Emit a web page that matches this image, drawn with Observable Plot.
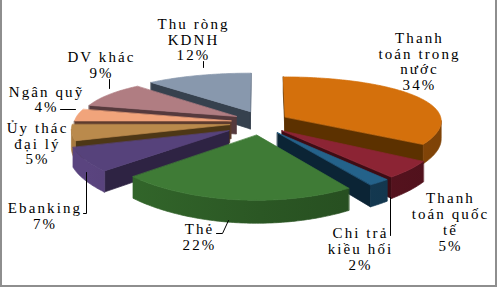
<!DOCTYPE html>
<html>
<head>
<meta charset="utf-8">
<script src="https://cdn.jsdelivr.net/npm/d3@7"></script>
<script src="https://cdn.jsdelivr.net/npm/@observablehq/plot@0.6"></script>
<style>
  html, body { margin: 0; padding: 0; background: #fff; }
  #wrap { position: relative; width: 497px; height: 287px; overflow: hidden; }
  #frame { position: absolute; left: 0; top: -4px; width: 497px; height: 291px; box-sizing: border-box;
           border: 2px solid #8e8e8e; pointer-events: none; }
  svg text { letter-spacing: 2.1px; }
</style>
</head>
<body>
<div id="wrap"><div id="chart"></div><div id="frame"></div></div>
<script>
// ---- data ----
const categories = ["Thanh toán trong nước", "Thanh toán quốc tế", "Chi trả kiều hối", "Thẻ",
  "Ebanking", "Ủy thác đại lý", "Ngân quỹ", "DV khác", "Thu ròng KDNH"];
const shares = [34, 5, 2, 22, 7, 5, 4, 9, 12];
const labelLines = [
  ["Thanh", "toán trong", "nước", "34%"],
  ["Thanh", "toán quốc", "tế", "5%"],
  ["Chi trả", "kiều hối", "2%"],
  ["Thẻ", "22%"],
  ["Ebanking", "7%"],
  ["Ủy thác", "đại lý", "5%"],
  ["Ngân quỹ", "4%"],
  ["DV khác", "9%"],
  ["Thu ròng", "KDNH", "12%"]
];
const topColors  = ["#D4700C", "#8C2434", "#24628A", "#3F7B36", "#56427B", "#BA8A4C", "#F1A47B", "#B07D82", "#8898AD"];
const wallColors = ["#9A5208", "#611522", "#163F5A", "#2B5724", "#4A3868", "#8A6433", "#B87A5A", "#86595E", "#5E6B7B"];
const cutColors  = ["#5C3100", "#3E0C14", "#0B2435", "#1E3D19", "#2E2343", "#4D3716", "#5E3C2E", "#563A3D", "#36414E"];

// ---- layout (not data) ----
const view = {cx: 260, cy: 122, R: 157, tilt: 0.31, kx: 0.08, ky: 0.175, h: 18, ex: 0.18, ez: 0.25};
const explode = [1, 1, 1, 1, 1.28, 1.1, 1.05, 1, 1];
const labelPos = [[419, 61], [450, 221.5], [360, 248.5], [199, 236.5], [44.5, 215.5], [37, 143], [46, 99], [101, 64.5], [193, 39]];
const leaders = [
  [[203, 61], [203, 67]],
  [[109, 79], [109, 88]],
  [[60, 109], [75, 109]],
  [[83, 213], [86, 213], [86, 172]],
  [[216, 233], [222, 233], [228, 220]],
  [[390, 197], [390, 235]]
];

// ---- geometry of a 3D exploded pie ----
function proj(X, Z, d) {
  const sx = 1 / (1 + view.kx * Z), sy = 1 / (1 + view.ky * Z);
  return [view.cx + view.R * X * sx, view.cy - view.R * view.tilt * Z * sy + d * sy];
}
function area(pts) {
  let a = 0;
  for (let i = 0; i < pts.length; i++) {
    const p = pts[i], q = pts[(i + 1) % pts.length];
    a += p[0] * q[1] - q[0] * p[1];
  }
  return a / 2;
}
const total = d3.sum(shares);
let acc = 0;
const slices = shares.map((v, i) => {
  const a = acc / total * 2 * Math.PI; acc += v;
  const b = acc / total * 2 * Math.PI;
  const m = (a + b) / 2;
  return {i, a, b, m, ox: view.ex * explode[i] * Math.sin(m), oz: view.ez * explode[i] * Math.cos(m)};
});
const faces = [];
let fid = 0;
function addFace(pts, fill) {
  const id = fid++;
  pts.forEach(([x, y]) => faces.push({id, x, y, fill}));
}
const order = slices.slice().sort((p, q) => Math.cos(q.m) - Math.cos(p.m));
for (const sl of order) {
  const pt = (th, r, d) => proj(sl.ox + r * Math.sin(th), sl.oz + r * Math.cos(th), d);
  const h = view.h;
  const n = Math.max(2, Math.ceil((sl.b - sl.a) / 0.015));
  const ths = d3.range(n + 1).map(j => sl.a + (sl.b - sl.a) * j / n);
  const tipT = pt(0, 0, 0), tipB = pt(0, 0, h);
  const AT = pt(sl.a, 1, 0), AB = pt(sl.a, 1, h), BT = pt(sl.b, 1, 0), BB = pt(sl.b, 1, h);
  // cut faces
  const fa = [AT, tipT, tipB, AB];
  if (area(fa) > 0) addFace(fa, cutColors[sl.i]);
  const fb = [tipT, BT, BB, tipB];
  if (area(fb) > 0) addFace(fb, cutColors[sl.i]);
  // outer wall (visible runs), filled with a left-lit gradient
  let run = null;
  const flush = () => {
    if (run && run.length > 1) {
      const top = run.map(t => pt(t, 1, 0));
      const bot = run.slice().reverse().map(t => pt(t, 1, h));
      addFace(top.concat(bot), `url(#wall${sl.i})`);
    }
    run = null;
  };
  for (let j = 0; j < n; j++) {
    const q = [pt(ths[j + 1], 1, 0), pt(ths[j], 1, 0), pt(ths[j], 1, h), pt(ths[j + 1], 1, h)];
    if (area(q) > 0) {
      if (!run) run = [ths[j]];
      run.push(ths[j + 1]);
    } else flush();
  }
  flush();
  // top face
  addFace([tipT].concat(ths.map(t => pt(t, 1, 0))), topColors[sl.i]);
}

const labels = labelLines.map((lines, i) => ({text: lines.join("\n"), x: labelPos[i][0], y: labelPos[i][1], name: categories[i]}));
const leaderRows = leaders.flatMap((l, i) => l.map(([x, y]) => ({id: i, x, y})));

const chart = Plot.plot({
  width: 497, height: 287, margin: 0,
  x: {domain: [0, 497], range: [0, 497], axis: null},
  y: {domain: [0, 287], range: [0, 287], axis: null},
  color: {type: "identity"},
  style: {background: "transparent", fontFamily: "Liberation Serif"},
  marks: [
    Plot.line(faces, {x: "x", y: "y", z: "id", fill: "fill", stroke: "fill", strokeWidth: 0.7, curve: "linear-closed"}),
    Plot.line(leaderRows, {x: "x", y: "y", z: "id", stroke: "#000", strokeWidth: 1}),
    Plot.text(labels, {x: "x", y: "y", text: "text", fontSize: 15, lineHeight: 1.05, fill: "#000", fontFamily: "Liberation Serif"})
  ]
});

// wall gradients (lit from the left), in pixel space
const ns = "http://www.w3.org/2000/svg";
const defs = document.createElementNS(ns, "defs");
wallColors.forEach((c, i) => {
  const g = document.createElementNS(ns, "linearGradient");
  g.setAttribute("id", `wall${i}`);
  g.setAttribute("gradientUnits", "userSpaceOnUse");
  g.setAttribute("x1", view.cx - view.R * 1.1); g.setAttribute("x2", view.cx + view.R * 1.1);
  g.setAttribute("y1", 0); g.setAttribute("y2", 0);
  [[0, 0.55], [0.5, 0], [1, -0.55]].forEach(([o, k]) => {
    const s = document.createElementNS(ns, "stop");
    s.setAttribute("offset", o);
    s.setAttribute("stop-color", d3.color(c).brighter(k).formatHex());
    g.appendChild(s);
  });
  defs.appendChild(g);
});
chart.insertBefore(defs, chart.firstChild);
document.getElementById("chart").appendChild(chart);
</script>
</body>
</html>
